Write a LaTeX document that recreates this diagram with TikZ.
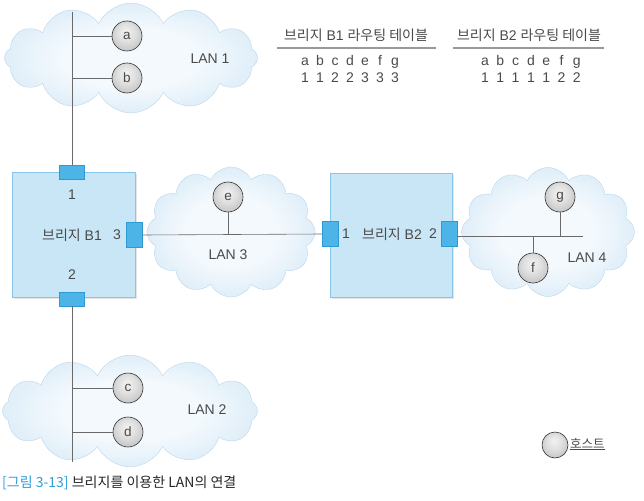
\documentclass[tikz,border=0pt]{standalone}
\usepackage{fontspec}
\setmainfont{Liberation Sans}
\newfontfamily\kr{Noto Sans CJK KR}
\usetikzlibrary{shapes.symbols,shadows,shadings}
\definecolor{cloudin}{HTML}{F3F9FD}
\definecolor{cloudout}{HTML}{C8E1F3}
\definecolor{cloudedge}{HTML}{BBD6EA}
\definecolor{brfill}{HTML}{C9E6F7}
\definecolor{brline}{HTML}{86C7E8}
\definecolor{portfill}{HTML}{4DB4E8}
\definecolor{portline}{HTML}{2E9AD3}
\definecolor{txt}{HTML}{4A4A4A}
\definecolor{wire}{HTML}{6A6A6A}
\definecolor{capblue}{HTML}{2E9FD8}
\pgfdeclareradialshading{cloudshade}{\pgfpoint{0bp}{0bp}}{color(0bp)=(cloudin); color(14bp)=(cloudin); color(38bp)=(cloudout); color(50bp)=(cloudout)}
\pgfdeclareradialshading{hostshade}{\pgfpoint{-2bp}{8bp}}{color(0bp)=(gray!10); color(15bp)=(gray!25); color(36bp)=(gray!56); color(50bp)=(gray!80)}
\tikzset{
  lan/.style={cloud, cloud puffs=12, cloud puff arc=130, inner sep=0pt,
    shading=cloudshade, draw=cloudedge, line width=0.4pt},
  host/.style={circle, minimum size=30pt, inner sep=0pt, shading=hostshade,
    draw=gray!40!black, line width=0.6pt,
    font=\fontsize{13.5}{13.5}\selectfont, text=txt},
  bridgebox/.style={rectangle, inner sep=0pt, fill=brfill, draw=brline, line width=0.7pt,
    drop shadow={shadow xshift=1.5pt, shadow yshift=-1.5pt, fill=gray!40}},
  porth/.style={rectangle, minimum width=25pt, minimum height=14pt, inner sep=0pt,
    fill=portfill, draw=portline, line width=0.4pt},
  portv/.style={rectangle, minimum width=16pt, minimum height=25pt, inner sep=0pt,
    fill=portfill, draw=portline, line width=0.4pt},
  wireline/.style={draw=wire, line width=0.6pt},
  lbl/.style={font=\fontsize{14}{14}\selectfont, text=txt, inner sep=1pt},
  tab/.style={font=\fontsize{14}{14}\selectfont, text=txt, inner sep=0pt},
}
\begin{document}
\begin{tikzpicture}[x=1pt,y=-1pt]
\useasboundingbox (0,0) rectangle (644,500);
% clouds
\node[lan, minimum width=253pt, minimum height=110pt] (lan1) at (131,58) {};
\node[lan, minimum width=168pt, minimum height=130pt] (lan3) at (231,232) {};
\node[lan, minimum width=173pt, minimum height=129pt] (lan4) at (548,232) {};
\node[lan, minimum width=255pt, minimum height=112pt] (lan2) at (130,411) {};
\node[lbl] (lan1t) at (210,59) {LAN 1};
\node[lbl] (lan3t) at (228,255) {LAN 3};
\node[lbl] (lan4t) at (587,258) {LAN 4};
\node[lbl] (lan2t) at (207,410) {LAN 2};
% bridges
\node[bridgebox, minimum width=123pt, minimum height=125pt] (b1) at (73.5,234.5) {};
\node[bridgebox, minimum width=122pt, minimum height=124pt] (b2) at (391,235) {};
\node[porth] (p1a) at (72,172) {};
\node[porth] (p1b) at (72,299) {};
\node[portv] (p1c) at (134,235) {};
\node[portv] (p2a) at (330,234) {};
\node[portv] (p2b) at (449,234) {};
\node[lbl] (b1n1) at (72,195) {1};
\node[lbl] (b1n2) at (72,275) {2};
\node[lbl] (b1name) at (72,235) {{\kr 브리지} B1};
\node[lbl] (b1n3) at (117,235) {3};
\node[lbl] (b2n1) at (346,234) {1};
\node[lbl] (b2name) at (392,234) {{\kr 브리지} B2};
\node[lbl] (b2n2) at (433,234) {2};
% wires
\coordinate (top1) at (72,12);
\coordinate (bot2) at (72,462);
\coordinate (end4) at (583,236);
\draw[wireline] (top1) -- (p1a.north);
\draw[wireline] (p1b.south) -- (bot2);
\draw[wireline] (p1c.east) -- (p2a.west);
\draw[wireline] (p2b.east |- end4) -- (end4);
% hosts
\node[host] (a) at (127,36) {a};
\node[host] (b) at (127,78) {b};
\node[host] (c) at (128,388) {c};
\node[host] (d) at (128,432) {d};
\node[host] (e) at (228,197) {e};
\node[host] (g) at (560,197) {g};
\node[host] (f) at (533,268) {f};
\draw[wireline] (a.west) -- (a.west -| top1);
\draw[wireline] (b.west) -- (b.west -| top1);
\draw[wireline] (c.west) -- (c.west -| top1);
\draw[wireline] (d.west) -- (d.west -| top1);
\draw[wireline] (e.south) -- (e.south |- p1c.east);
\draw[wireline] (g.south) -- (g.south |- end4);
\draw[wireline] (f.north) -- (f.north |- end4);
% routing tables
\node[tab] (t1) at (356,35) {{\kr 브리지} B1 {\kr 라우팅 테이블}};
\node[tab] (t2) at (529,35) {{\kr 브리지} B2 {\kr 라우팅 테이블}};
\coordinate (u1a) at (277,48); \coordinate (u1b) at (436,48);
\coordinate (u2a) at (453,48); \coordinate (u2b) at (604,48);
\draw[draw=gray!80, line width=1.2pt] (u1a) -- (u1b);
\draw[draw=gray!80, line width=1.2pt] (u2a) -- (u2b);
\foreach \l [count=\i] in {a,b,c,d,e,f,g}{
  \node[tab, anchor=base] (t1l\i) at (305+15*\i-15,66) {\l};
  \node[tab, anchor=base] (t2l\i) at (485+15.3*\i-15.3,66) {\l};
}
\foreach \n [count=\i] in {1,1,2,2,3,3,3}{
  \node[tab, anchor=base] (t1d\i) at (305+15*\i-15,83) {\n};
}
\foreach \n [count=\i] in {1,1,1,1,1,2,2}{
  \node[tab, anchor=base] (t2d\i) at (485+15.3*\i-15.3,83) {\n};
}
% legend
\node[host, minimum size=26pt] (leg) at (555,445) {};
\node[anchor=west, font=\kr\fontsize{12.5}{12.5}\selectfont, text=txt, inner sep=0pt] (legt) at (570,444) {\underline{호스트}};
% caption
\node[anchor=west, font=\kr\fontsize{14}{14}\selectfont, text=black!85, inner sep=0pt] (cap) at (2,483) {\textcolor{capblue}{[그림 3-13]} 브리지를 이용한 LAN의 연결};
\end{tikzpicture}
\end{document}
